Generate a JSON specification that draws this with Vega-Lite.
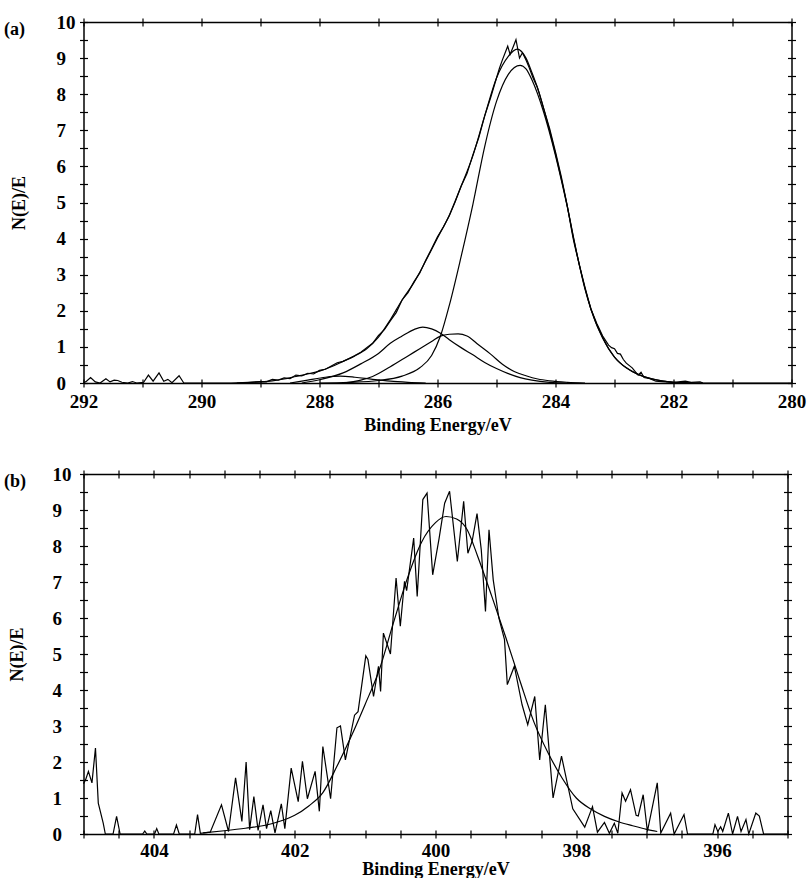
{
"$schema": "https://vega.github.io/schema/vega-lite/v6.json",
"padding": {"left": 3.5, "top": 13, "right": 5, "bottom": 0},
"config": {
 "view": {"stroke": null},
 "font": "Liberation Serif",
 "axis": {"labelFont": "Liberation Serif", "labelFontSize": 19, "labelFontWeight": "bold", "labelColor": "#000", "titleFont": "Liberation Serif", "titleFontSize": 18, "titleFontWeight": "bold", "titleColor": "#000", "domainColor": "#000", "domainWidth": 1.5, "tickColor": "#000", "tickWidth": 1.2, "grid": false, "labelFlush": false, "labelOverlap": false},
 "title": {"font": "Liberation Serif", "fontSize": 18, "fontWeight": "bold", "color": "#000"},
 "line": {"stroke": "#000", "strokeWidth": 1.2}
},
"datasets": {
 "a_raw": [
  {"E":292.0,"v":0.0},{"E":291.95,"v":0.05},{"E":291.88,"v":0.15},{"E":291.8,"v":0.03},{"E":291.72,"v":0.0},{"E":291.62,"v":0.12},{"E":291.55,"v":0.03},{"E":291.48,"v":0.08},{"E":291.42,"v":0.07},{"E":291.35,"v":0.02},{"E":291.25,"v":0.0},{"E":291.17,"v":0.04},{"E":291.1,"v":0.0},{"E":290.98,"v":0.02},{"E":290.9,"v":0.22},{"E":290.82,"v":0.05},{"E":290.72,"v":0.28},{"E":290.64,"v":0.05},{"E":290.57,"v":0.1},{"E":290.5,"v":0.01},{"E":290.38,"v":0.2},{"E":290.3,"v":0.0},{"E":289.5,"v":0.0},{"E":289.2,"v":0.02},{"E":289.0,"v":0.04},{"E":288.9,"v":0.03},{"E":288.8,"v":0.1},{"E":288.7,"v":0.08},{"E":288.6,"v":0.14},{"E":288.5,"v":0.12},{"E":288.4,"v":0.22},{"E":288.3,"v":0.2},{"E":288.2,"v":0.27},{"E":288.1,"v":0.25},{"E":288.0,"v":0.35},{"E":287.9,"v":0.38},{"E":287.8,"v":0.47},{"E":287.7,"v":0.56},{"E":287.6,"v":0.6},{"E":287.5,"v":0.68},{"E":287.4,"v":0.76},{"E":287.3,"v":0.85},{"E":287.2,"v":0.98},{"E":287.1,"v":1.1},{"E":287.0,"v":1.32},{"E":286.9,"v":1.48},{"E":286.8,"v":1.72},{"E":286.7,"v":1.95},{"E":286.6,"v":2.3},{"E":286.5,"v":2.5},{"E":286.4,"v":2.8},{"E":286.3,"v":3.05},{"E":286.2,"v":3.4},{"E":286.1,"v":3.72},{"E":286.0,"v":4.05},{"E":285.9,"v":4.32},{"E":285.8,"v":4.63},{"E":285.7,"v":5.02},{"E":285.6,"v":5.45},{"E":285.5,"v":5.8},{"E":285.4,"v":6.32},{"E":285.3,"v":6.8},{"E":285.2,"v":7.4},{"E":285.1,"v":7.9},{"E":285.0,"v":8.45},{"E":284.95,"v":8.72},{"E":284.9,"v":8.95},{"E":284.81,"v":9.33},{"E":284.77,"v":9.1},{"E":284.72,"v":9.3},{"E":284.67,"v":9.51},{"E":284.61,"v":9.0},{"E":284.56,"v":9.15},{"E":284.5,"v":8.95},{"E":284.45,"v":8.75},{"E":284.38,"v":8.45},{"E":284.31,"v":8.2},{"E":284.28,"v":8.05},{"E":284.2,"v":7.6},{"E":284.1,"v":7.05},{"E":284.0,"v":6.4},{"E":283.9,"v":5.7},{"E":283.8,"v":4.9},{"E":283.7,"v":4.05},{"E":283.6,"v":3.3},{"E":283.5,"v":2.65},{"E":283.4,"v":2.05},{"E":283.3,"v":1.65},{"E":283.2,"v":1.3},{"E":283.1,"v":1.05},{"E":283.05,"v":0.98},{"E":283.0,"v":0.95},{"E":282.95,"v":0.82},{"E":282.9,"v":0.8},{"E":282.85,"v":0.65},{"E":282.8,"v":0.55},{"E":282.7,"v":0.42},{"E":282.6,"v":0.22},{"E":282.55,"v":0.3},{"E":282.5,"v":0.15},{"E":282.4,"v":0.12},{"E":282.3,"v":0.05},{"E":282.2,"v":0.04},{"E":282.0,"v":0.02},{"E":281.8,"v":0.05},{"E":281.7,"v":0.02},{"E":281.55,"v":0.03},{"E":281.5,"v":0.0},{"E":280.0,"v":0.0}
 ],
 "a_fit": [
  {"E":289.4,"v":0.0},{"E":289.0,"v":0.03},{"E":288.8,"v":0.06},{"E":288.6,"v":0.11},{"E":288.4,"v":0.18},{"E":288.2,"v":0.25},{"E":288.0,"v":0.33},{"E":287.8,"v":0.45},{"E":287.6,"v":0.6},{"E":287.4,"v":0.75},{"E":287.2,"v":0.95},{"E":287.0,"v":1.27},{"E":286.8,"v":1.75},{"E":286.6,"v":2.3},{"E":286.4,"v":2.78},{"E":286.2,"v":3.38},{"E":286.0,"v":4.02},{"E":285.8,"v":4.65},{"E":285.6,"v":5.45},{"E":285.4,"v":6.3},{"E":285.2,"v":7.4},{"E":285.0,"v":8.45},{"E":284.8,"v":9.05},{"E":284.65,"v":9.25},{"E":284.5,"v":9.0},{"E":284.4,"v":8.6},{"E":284.3,"v":8.15},{"E":284.2,"v":7.6},{"E":284.1,"v":7.0},{"E":284.0,"v":6.35},{"E":283.9,"v":5.65},{"E":283.8,"v":4.9},{"E":283.7,"v":4.0},{"E":283.6,"v":3.3},{"E":283.5,"v":2.6},{"E":283.4,"v":2.05},{"E":283.3,"v":1.6},{"E":283.2,"v":1.25},{"E":283.1,"v":0.95},{"E":283.0,"v":0.72},{"E":282.9,"v":0.55},{"E":282.8,"v":0.42},{"E":282.7,"v":0.32},{"E":282.6,"v":0.24},{"E":282.5,"v":0.18},{"E":282.4,"v":0.13},{"E":282.3,"v":0.09},{"E":282.2,"v":0.06},{"E":282.1,"v":0.04},{"E":282.0,"v":0.02},{"E":281.8,"v":0.01},{"E":281.5,"v":0.0}
 ],
 "a_c1": [
  {"E":288.0,"v":0.0},{"E":287.5,"v":0.02},{"E":287.0,"v":0.07},{"E":286.6,"v":0.19},{"E":286.3,"v":0.42},{"E":286.1,"v":0.76},{"E":285.95,"v":1.3},{"E":285.8,"v":2.15},{"E":285.6,"v":3.5},{"E":285.4,"v":4.95},{"E":285.2,"v":6.55},{"E":285.0,"v":7.8},{"E":284.8,"v":8.55},{"E":284.6,"v":8.8},{"E":284.5,"v":8.7},{"E":284.4,"v":8.4},{"E":284.2,"v":7.5},{"E":284.0,"v":6.3},{"E":283.8,"v":4.88},{"E":283.6,"v":3.3},{"E":283.4,"v":2.05},{"E":283.2,"v":1.25},{"E":283.0,"v":0.72},{"E":282.8,"v":0.42},{"E":282.6,"v":0.24},{"E":282.4,"v":0.13},{"E":282.2,"v":0.06},{"E":282.0,"v":0.02},{"E":281.7,"v":0.0}
 ],
 "a_c2": [
  {"E":288.3,"v":0.0},{"E":288.0,"v":0.09},{"E":287.6,"v":0.28},{"E":287.3,"v":0.53},{"E":287.0,"v":0.82},{"E":286.8,"v":1.1},{"E":286.6,"v":1.3},{"E":286.4,"v":1.48},{"E":286.25,"v":1.55},{"E":286.1,"v":1.5},{"E":285.95,"v":1.38},{"E":285.8,"v":1.2},{"E":285.6,"v":0.98},{"E":285.4,"v":0.78},{"E":285.2,"v":0.57},{"E":285.0,"v":0.4},{"E":284.8,"v":0.26},{"E":284.6,"v":0.15},{"E":284.4,"v":0.08},{"E":284.1,"v":0.02},{"E":283.8,"v":0.0}
 ],
 "a_c3": [
  {"E":287.6,"v":0.0},{"E":287.3,"v":0.08},{"E":287.1,"v":0.18},{"E":286.8,"v":0.45},{"E":286.5,"v":0.75},{"E":286.3,"v":0.95},{"E":286.1,"v":1.15},{"E":285.95,"v":1.3},{"E":285.8,"v":1.35},{"E":285.65,"v":1.36},{"E":285.5,"v":1.3},{"E":285.3,"v":1.05},{"E":285.1,"v":0.8},{"E":284.9,"v":0.52},{"E":284.7,"v":0.32},{"E":284.5,"v":0.2},{"E":284.3,"v":0.11},{"E":284.1,"v":0.06},{"E":283.8,"v":0.02},{"E":283.5,"v":0.0}
 ],
 "a_c4": [
  {"E":288.5,"v":0.0},{"E":288.2,"v":0.08},{"E":287.9,"v":0.16},{"E":287.65,"v":0.19},{"E":287.4,"v":0.16},{"E":287.1,"v":0.1},{"E":286.8,"v":0.05},{"E":286.5,"v":0.02},{"E":286.2,"v":0.0}
 ],
 "b_raw": [
  {"E":405.0,"v":1.4},{"E":404.97,"v":1.51},{"E":404.93,"v":1.74},{"E":404.88,"v":1.42},{"E":404.83,"v":2.39},{"E":404.79,"v":0.86},{"E":404.72,"v":0.3},{"E":404.69,"v":0.0},{"E":404.58,"v":0.0},{"E":404.53,"v":0.49},{"E":404.48,"v":0.0},{"E":404.16,"v":0.0},{"E":404.13,"v":0.08},{"E":404.1,"v":0.0},{"E":403.99,"v":0.0},{"E":403.96,"v":0.15},{"E":403.93,"v":0.0},{"E":403.72,"v":0.0},{"E":403.68,"v":0.25},{"E":403.64,"v":0.0},{"E":403.42,"v":0.0},{"E":403.38,"v":0.54},{"E":403.34,"v":0.02},{"E":403.2,"v":0.05},{"E":403.04,"v":0.81},{"E":402.94,"v":0.07},{"E":402.84,"v":1.56},{"E":402.75,"v":0.35},{"E":402.69,"v":2.0},{"E":402.64,"v":0.12},{"E":402.58,"v":1.04},{"E":402.52,"v":0.1},{"E":402.45,"v":0.81},{"E":402.4,"v":0.15},{"E":402.34,"v":0.65},{"E":402.28,"v":0.03},{"E":402.19,"v":0.84},{"E":402.14,"v":0.15},{"E":402.05,"v":1.83},{"E":401.95,"v":0.9},{"E":401.89,"v":2.02},{"E":401.82,"v":0.98},{"E":401.71,"v":1.74},{"E":401.65,"v":0.63},{"E":401.6,"v":2.43},{"E":401.49,"v":0.98},{"E":401.4,"v":2.95},{"E":401.35,"v":3.0},{"E":401.28,"v":2.06},{"E":401.15,"v":3.3},{"E":401.1,"v":3.4},{"E":400.99,"v":4.95},{"E":400.96,"v":4.85},{"E":400.88,"v":3.82},{"E":400.81,"v":4.66},{"E":400.78,"v":3.96},{"E":400.74,"v":5.58},{"E":400.64,"v":5.0},{"E":400.56,"v":7.11},{"E":400.5,"v":5.77},{"E":400.44,"v":7.02},{"E":400.41,"v":6.76},{"E":400.31,"v":8.22},{"E":400.26,"v":6.6},{"E":400.18,"v":9.29},{"E":400.12,"v":9.47},{"E":400.04,"v":7.2},{"E":399.95,"v":8.2},{"E":399.87,"v":9.19},{"E":399.8,"v":9.52},{"E":399.69,"v":7.57},{"E":399.6,"v":9.24},{"E":399.54,"v":7.8},{"E":399.48,"v":8.13},{"E":399.41,"v":8.9},{"E":399.35,"v":7.9},{"E":399.29,"v":6.18},{"E":399.24,"v":8.45},{"E":399.18,"v":7.06},{"E":399.1,"v":6.0},{"E":399.02,"v":5.4},{"E":398.98,"v":4.15},{"E":398.88,"v":4.66},{"E":398.77,"v":3.59},{"E":398.69,"v":3.04},{"E":398.59,"v":3.82},{"E":398.52,"v":2.06},{"E":398.44,"v":3.59},{"E":398.33,"v":1.0},{"E":398.21,"v":2.16},{"E":398.05,"v":0.7},{"E":397.88,"v":0.19},{"E":397.77,"v":0.76},{"E":397.7,"v":0.05},{"E":397.6,"v":0.32},{"E":397.53,"v":0.02},{"E":397.46,"v":0.3},{"E":397.41,"v":0.02},{"E":397.35,"v":1.14},{"E":397.3,"v":0.91},{"E":397.23,"v":1.23},{"E":397.15,"v":0.52},{"E":397.12,"v":0.5},{"E":397.05,"v":1.09},{"E":396.99,"v":0.07},{"E":396.85,"v":1.42},{"E":396.8,"v":0.03},{"E":396.66,"v":0.58},{"E":396.61,"v":0.0},{"E":396.47,"v":0.54},{"E":396.42,"v":0.0},{"E":396.06,"v":0.0},{"E":396.03,"v":0.26},{"E":395.99,"v":0.07},{"E":395.95,"v":0.2},{"E":395.92,"v":0.07},{"E":395.84,"v":0.58},{"E":395.78,"v":0.0},{"E":395.71,"v":0.49},{"E":395.66,"v":0.07},{"E":395.59,"v":0.4},{"E":395.55,"v":0.0},{"E":395.45,"v":0.58},{"E":395.4,"v":0.5},{"E":395.34,"v":0.0},{"E":395.0,"v":0.0}
 ],
 "b_fit": [
  {"E":403.3,"v":0.03},{"E":403.0,"v":0.09},{"E":402.7,"v":0.16},{"E":402.4,"v":0.25},{"E":402.2,"v":0.36},{"E":402.0,"v":0.52},{"E":401.8,"v":0.78},{"E":401.6,"v":1.15},{"E":401.4,"v":1.88},{"E":401.2,"v":2.7},{"E":401.0,"v":3.6},{"E":400.8,"v":4.55},{"E":400.6,"v":5.85},{"E":400.4,"v":7.1},{"E":400.2,"v":8.1},{"E":400.0,"v":8.65},{"E":399.85,"v":8.82},{"E":399.7,"v":8.75},{"E":399.55,"v":8.45},{"E":399.4,"v":7.71},{"E":399.2,"v":6.6},{"E":399.0,"v":5.45},{"E":398.8,"v":4.25},{"E":398.6,"v":3.1},{"E":398.4,"v":2.25},{"E":398.2,"v":1.55},{"E":398.0,"v":1.0},{"E":397.8,"v":0.7},{"E":397.6,"v":0.49},{"E":397.4,"v":0.34},{"E":397.2,"v":0.23},{"E":397.0,"v":0.13},{"E":396.85,"v":0.07}
 ]
},
"spacing": 31,
"vconcat": [
 {
  "width": 708, "height": 361,
  "title": {"text": "(a)", "anchor": "start", "frame": "bounds", "offset": -26, "dx": -6},
  "resolve": {"axis": {"x": "independent", "y": "independent"}},
  "layer": [
   {"data": {"name": "a_raw"}, "mark": {"type": "line"},
    "encoding": {
     "x": {"field": "E", "type": "quantitative", "scale": {"domain": [280, 292], "reverse": true, "nice": false, "zero": false},
       "axis": {"orient": "bottom", "values": [280,281,282,283,284,285,286,287,288,289,290,291,292], "format": ".0f", "labelExpr": "datum.value % 2 == 0 ? datum.label : ''", "tickSize": 4, "labelPadding": 5, "title": "Binding Energy/eV", "titlePadding": 5}},
     "y": {"field": "v", "type": "quantitative", "scale": {"domain": [0, 10], "nice": false, "zero": false},
       "axis": {"orient": "left", "values": [0,0.5,1,1.5,2,2.5,3,3.5,4,4.5,5,5.5,6,6.5,7,7.5,8,8.5,9,9.5,10], "format": ".0f", "labelExpr": "datum.value % 1 == 0 ? datum.label : ''", "tickSize": 4, "labelAlign": "left", "labelPadding": 23.5, "title": "N(E)/E", "titlePadding": 28}}
    }},
   {"data": {"name": "a_fit"}, "mark": {"type": "line", "interpolate": "monotone"},
    "encoding": {
     "x": {"field": "E", "type": "quantitative", "scale": {"domain": [280, 292], "reverse": true, "nice": false, "zero": false},
       "axis": {"orient": "bottom", "values": [280,281,282,283,284,285,286,287,288,289,290,291,292], "tickSize": -4, "labels": false, "domain": false, "title": null}},
     "y": {"field": "v", "type": "quantitative", "scale": {"domain": [0, 10], "nice": false, "zero": false},
       "axis": {"orient": "left", "values": [0,0.5,1,1.5,2,2.5,3,3.5,4,4.5,5,5.5,6,6.5,7,7.5,8,8.5,9,9.5,10], "tickSize": -4, "labels": false, "domain": false, "title": null}}
    }},
   {"data": {"name": "a_c1"}, "mark": {"type": "line", "interpolate": "monotone"},
    "encoding": {
     "x": {"field": "E", "type": "quantitative", "scale": {"domain": [280, 292], "reverse": true, "nice": false, "zero": false},
       "axis": {"orient": "top", "values": [280,281,282,283,284,285,286,287,288,289,290,291,292], "tickSize": 4, "labels": false, "title": null}},
     "y": {"field": "v", "type": "quantitative", "scale": {"domain": [0, 10], "nice": false, "zero": false},
       "axis": {"orient": "right", "values": [0,0.5,1,1.5,2,2.5,3,3.5,4,4.5,5,5.5,6,6.5,7,7.5,8,8.5,9,9.5,10], "tickSize": 4, "labels": false, "title": null}}
    }},
   {"data": {"name": "a_c2"}, "mark": {"type": "line", "interpolate": "monotone"},
    "encoding": {
     "x": {"field": "E", "type": "quantitative", "scale": {"domain": [280, 292], "reverse": true, "nice": false, "zero": false},
       "axis": {"orient": "top", "values": [280,281,282,283,284,285,286,287,288,289,290,291,292], "tickSize": -4, "labels": false, "domain": false, "title": null}},
     "y": {"field": "v", "type": "quantitative", "scale": {"domain": [0, 10], "nice": false, "zero": false},
       "axis": {"orient": "right", "values": [0,0.5,1,1.5,2,2.5,3,3.5,4,4.5,5,5.5,6,6.5,7,7.5,8,8.5,9,9.5,10], "tickSize": -4, "labels": false, "domain": false, "title": null}}
    }},
   {"data": {"name": "a_c3"}, "mark": {"type": "line", "interpolate": "monotone"},
    "encoding": {
     "x": {"field": "E", "type": "quantitative", "scale": {"domain": [280, 292], "reverse": true, "nice": false, "zero": false}, "axis": null},
     "y": {"field": "v", "type": "quantitative", "scale": {"domain": [0, 10], "nice": false, "zero": false}, "axis": null}
    }},
   {"data": {"name": "a_c4"}, "mark": {"type": "line", "interpolate": "monotone"},
    "encoding": {
     "x": {"field": "E", "type": "quantitative", "scale": {"domain": [280, 292], "reverse": true, "nice": false, "zero": false}, "axis": null},
     "y": {"field": "v", "type": "quantitative", "scale": {"domain": [0, 10], "nice": false, "zero": false}, "axis": null}
    }}
  ]
 },
 {
  "width": 704, "height": 360,
  "title": {"text": "(b)", "anchor": "start", "frame": "bounds", "offset": -26, "dx": -4},
  "resolve": {"axis": {"x": "independent", "y": "independent"}},
  "layer": [
   {"data": {"name": "b_raw"}, "mark": {"type": "line"},
    "encoding": {
     "x": {"field": "E", "type": "quantitative", "scale": {"domain": [395, 405], "reverse": true, "nice": false, "zero": false},
       "axis": {"orient": "bottom", "values": [395,395.5,396,396.5,397,397.5,398,398.5,399,399.5,400,400.5,401,401.5,402,402.5,403,403.5,404,404.5,405], "format": ".0f", "labelExpr": "datum.value % 2 == 0 ? datum.label : ''", "tickSize": 4, "labelPadding": 3, "title": "Binding Energy/eV", "titlePadding": 0}},
     "y": {"field": "v", "type": "quantitative", "scale": {"domain": [0, 10], "nice": false, "zero": false},
       "axis": {"orient": "left", "values": [0,0.5,1,1.5,2,2.5,3,3.5,4,4.5,5,5.5,6,6.5,7,7.5,8,8.5,9,9.5,10], "format": ".0f", "labelExpr": "datum.value % 1 == 0 ? datum.label : ''", "tickSize": 4, "labelAlign": "left", "labelPadding": 27.5, "title": "N(E)/E", "titlePadding": 26}}
    }},
   {"data": {"name": "b_fit"}, "mark": {"type": "line", "interpolate": "monotone"},
    "encoding": {
     "x": {"field": "E", "type": "quantitative", "scale": {"domain": [395, 405], "reverse": true, "nice": false, "zero": false},
       "axis": {"orient": "bottom", "values": [395,395.5,396,396.5,397,397.5,398,398.5,399,399.5,400,400.5,401,401.5,402,402.5,403,403.5,404,404.5,405], "tickSize": -4, "labels": false, "domain": false, "title": null}},
     "y": {"field": "v", "type": "quantitative", "scale": {"domain": [0, 10], "nice": false, "zero": false},
       "axis": {"orient": "left", "values": [0,0.5,1,1.5,2,2.5,3,3.5,4,4.5,5,5.5,6,6.5,7,7.5,8,8.5,9,9.5,10], "tickSize": -4, "labels": false, "domain": false, "title": null}}
    }},
   {"data": {"name": "b_fit"}, "mark": {"type": "line", "interpolate": "monotone", "opacity": 0},
    "encoding": {
     "x": {"field": "E", "type": "quantitative", "scale": {"domain": [395, 405], "reverse": true, "nice": false, "zero": false},
       "axis": {"orient": "top", "values": [395,395.5,396,396.5,397,397.5,398,398.5,399,399.5,400,400.5,401,401.5,402,402.5,403,403.5,404,404.5,405], "tickSize": 4, "labels": false, "title": null}},
     "y": {"field": "v", "type": "quantitative", "scale": {"domain": [0, 10], "nice": false, "zero": false},
       "axis": {"orient": "right", "values": [0,0.5,1,1.5,2,2.5,3,3.5,4,4.5,5,5.5,6,6.5,7,7.5,8,8.5,9,9.5,10], "tickSize": 4, "labels": false, "title": null}}
    }},
   {"data": {"name": "b_fit"}, "mark": {"type": "line", "interpolate": "monotone", "opacity": 0},
    "encoding": {
     "x": {"field": "E", "type": "quantitative", "scale": {"domain": [395, 405], "reverse": true, "nice": false, "zero": false},
       "axis": {"orient": "top", "values": [395,395.5,396,396.5,397,397.5,398,398.5,399,399.5,400,400.5,401,401.5,402,402.5,403,403.5,404,404.5,405], "tickSize": -4, "labels": false, "domain": false, "title": null}},
     "y": {"field": "v", "type": "quantitative", "scale": {"domain": [0, 10], "nice": false, "zero": false},
       "axis": {"orient": "right", "values": [0,0.5,1,1.5,2,2.5,3,3.5,4,4.5,5,5.5,6,6.5,7,7.5,8,8.5,9,9.5,10], "tickSize": -4, "labels": false, "domain": false, "title": null}}
    }}
  ]
 }
]
}
